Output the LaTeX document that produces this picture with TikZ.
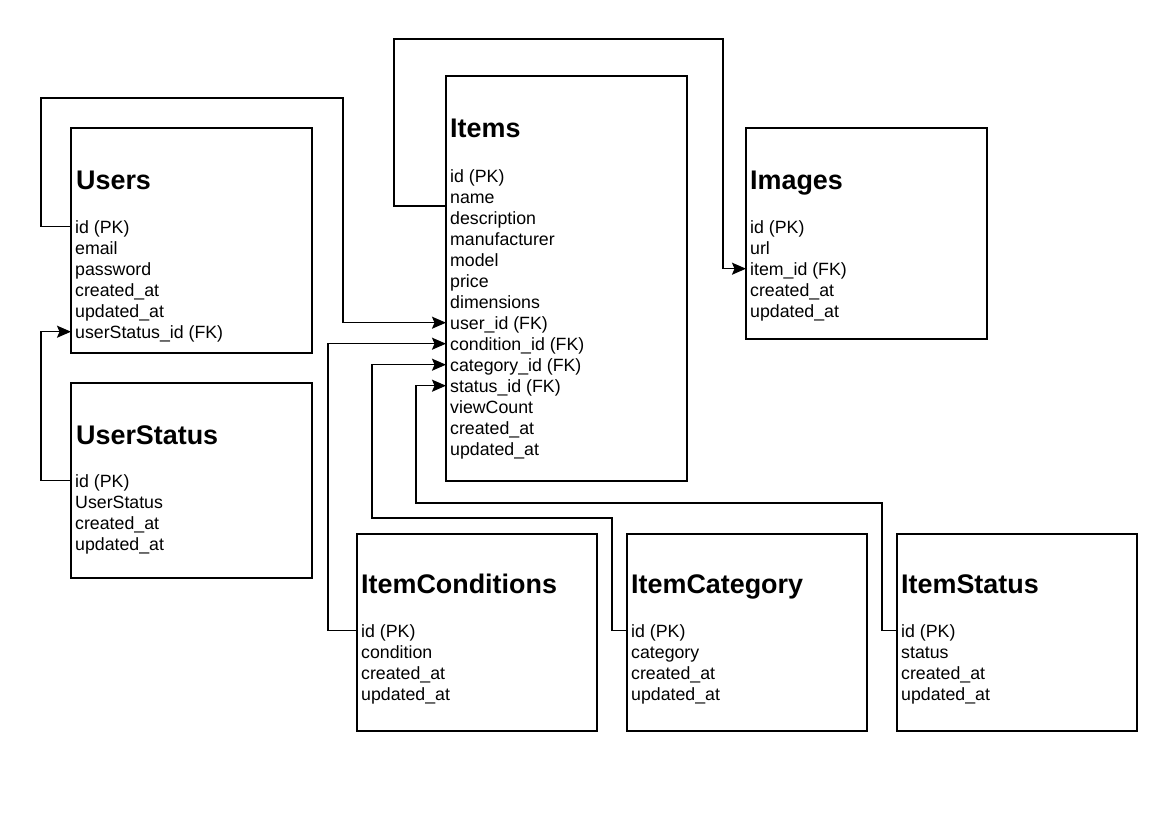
\documentclass[tikz,border=0pt]{standalone}
\usepackage{fontspec}
\setmainfont{Liberation Sans}
\usetikzlibrary{arrows.meta}
\begin{document}
\begin{tikzpicture}[
    x=1pt, y=-1pt,
    entity/.style = { draw, line width=1.46pt, anchor=north west, inner sep=0pt, outer sep=0pt },
    title/.style = { anchor=base west, inner sep=0pt, font=\fontsize{26.9}{32}\selectfont\bfseries },
    field/.style = { anchor=base west, inner sep=0pt, text height=15.3pt, text depth=2.7pt,
                     font=\fontsize{17.75}{21}\selectfont },
    fk/.style = { line width=1.46pt, -{Stealth[length=14pt,width=12pt,inset=2.5pt]} }
    ]
\useasboundingbox (0,0) rectangle (1176,830);
%
\node[entity, minimum width=241pt, minimum height=225pt] (Users) at (71,128) {};
\node[title] (UsersTitle) at (76,189) {Users};
\foreach \Field [count=\i] in {id (PK), email, password, created\_at, updated\_at, userStatus\_id (FK)}
    \node[field] (Users-\i) at (75,{233+21*(\i-1)}) {\Field};
%
\node[entity, minimum width=241pt, minimum height=195pt] (UserStatus) at (71,383) {};
\node[title] (UserStatusTitle) at (76,444) {UserStatus};
\foreach \Field [count=\i] in {id (PK), UserStatus, created\_at, updated\_at}
    \node[field] (UserStatus-\i) at (75,{487+21*(\i-1)}) {\Field};
%
\node[entity, minimum width=241pt, minimum height=405pt] (Items) at (446,76) {};
\node[title] (ItemsTitle) at (450,137) {Items};
\foreach \Field [count=\i] in {id (PK), name, description, manufacturer, model, price, dimensions,
        user\_id (FK), condition\_id (FK), category\_id (FK), status\_id (FK), viewCount,
        created\_at, updated\_at}
    \node[field] (Items-\i) at (450,{182+21*(\i-1)}) {\Field};
%
\node[entity, minimum width=241pt, minimum height=211pt] (Images) at (746,128) {};
\node[title] (ImagesTitle) at (750,189) {Images};
\foreach \Field [count=\i] in {id (PK), url, item\_id (FK), created\_at, updated\_at}
    \node[field] (Images-\i) at (750,{233+21*(\i-1)}) {\Field};
%
\node[entity, minimum width=240pt, minimum height=197pt] (ItemConditions) at (357,534) {};
\node[title] (ItemConditionsTitle) at (361,593) {ItemConditions};
\foreach \Field [count=\i] in {id (PK), condition, created\_at, updated\_at}
    \node[field] (ItemConditions-\i) at (361,{637+21*(\i-1)}) {\Field};
%
\node[entity, minimum width=240pt, minimum height=197pt] (ItemCategory) at (627,534) {};
\node[title] (ItemCategoryTitle) at (631,593) {ItemCategory};
\foreach \Field [count=\i] in {id (PK), category, created\_at, updated\_at}
    \node[field] (ItemCategory-\i) at (631,{637+21*(\i-1)}) {\Field};
%
\node[entity, minimum width=240pt, minimum height=197pt] (ItemStatus) at (897,534) {};
\node[title] (ItemStatusTitle) at (901,593) {ItemStatus};
\foreach \Field [count=\i] in {id (PK), status, created\_at, updated\_at}
    \node[field] (ItemStatus-\i) at (901,{637+21*(\i-1)}) {\Field};
%
\draw[fk] (Users-1.west -| Users.west) -- ++(-30,0) |- (343,98) |- (Items-8.west -| Items.west);
\draw[fk] (UserStatus-1.west -| UserStatus.west) -- ++(-30,0) |- (Users-6.west -| Users.west);
\draw[fk] (Items-2.south west -| Items.west) -- ++(-52,0) |- (723,39) |- (Images-3.west -| Images.west);
\draw[fk] (ItemConditions-1.west -| ItemConditions.west) -- ++(-29,0) |- (Items-9.west -| Items.west);
\draw[fk] (ItemCategory-1.west -| ItemCategory.west) -- ++(-15,0) |- (372,518) |- (Items-10.west -| Items.west);
\draw[fk] (ItemStatus-1.west -| ItemStatus.west) -- ++(-15,0) |- (416,503) |- (Items-11.west -| Items.west);
\end{tikzpicture}
\end{document}
